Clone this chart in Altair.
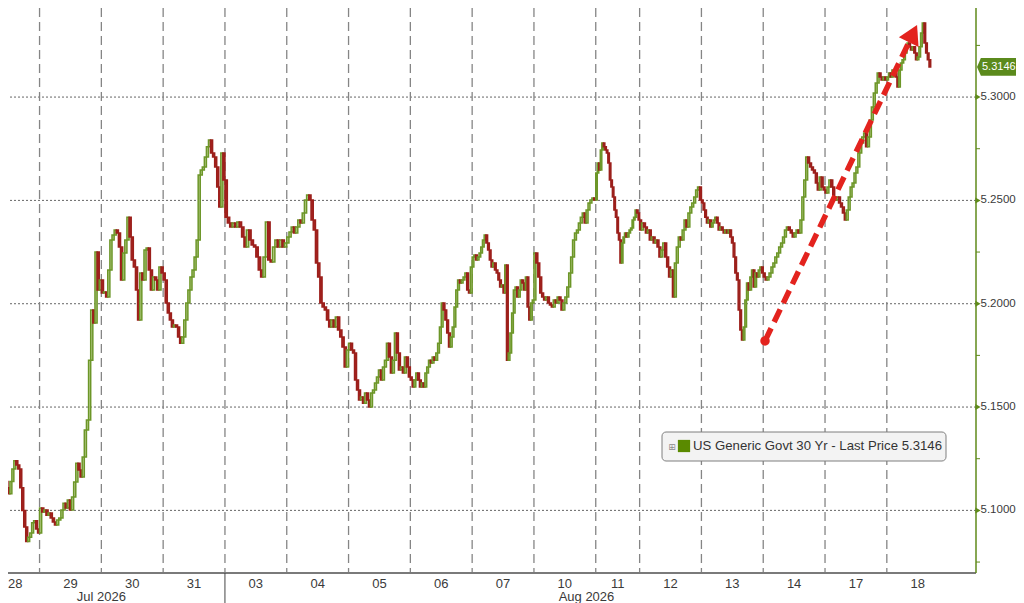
import pandas as pd
import numpy as np
import altair as alt

FONT = "Liberation Sans, Arial, sans-serif"
OLIVE = '#5f8a1a'

# trading sessions (x in trading-day units; day 28 is cut at the left edge, 18 still open)
day_labels = ['28', '29', '30', '31', '03', '04', '05', '06', '07', '10', '11', '12', '13', '14', '17', '18']
day_starts = [0.36, 1, 2, 3, 4, 5, 6, 7, 8, 9, 10, 10.71, 11.71, 12.71, 13.71, 14.71]
day_ends = [1, 2, 3, 4, 5, 6, 7, 8, 9, 10, 10.71, 11.71, 12.71, 13.71, 14.71, 15.42]
label_pos = [0.5, 1.5, 2.5, 3.5, 4.5, 5.5, 6.5, 7.5, 8.5, 9.5, 10.355, 11.21, 12.21, 13.21, 14.21, 15.21]
day_bounds = [1, 2, 3, 4, 5, 6, 7, 8, 9, 10, 10.71, 11.71, 12.71, 13.71, 14.71]
month_labels = ['Jul 2026', 'Aug 2026']
month_pos = [2.0, 9.85]
month_break = [4.0]

# intraday closes per session
c28 = [5.111, 5.110, 5.114, 5.111, 5.108, 5.114, 5.120, 5.124, 5.122, 5.120, 5.111, 5.100, 5.092, 5.085,
       5.087, 5.089, 5.094, 5.095, 5.091, 5.089]
c29 = [5.1011, 5.0992, 5.1002, 5.0977, 5.0987, 5.0963, 5.0944, 5.0929, 5.0953, 5.0963, 5.1002, 5.1035,
       5.1011, 5.1050, 5.1002, 5.1065, 5.1137, 5.1228, 5.1195, 5.1161, 5.1258, 5.1389, 5.1437, 5.1727,
       5.1970, 5.1907, 5.2250, 5.2066, 5.2115]
c30 = [5.2052, 5.2057, 5.2033, 5.2163, 5.2308, 5.2333, 5.2357, 5.2342, 5.2275, 5.2115, 5.2245, 5.2308,
       5.2419, 5.2323, 5.2212, 5.2178, 5.2066, 5.1921, 5.2149, 5.2115, 5.2260, 5.2270, 5.2163, 5.2066,
       5.2129, 5.2115, 5.2066, 5.2178, 5.2149]
c31 = [5.2115, 5.2003, 5.1955, 5.1921, 5.1887, 5.1897, 5.1887, 5.1839, 5.1809, 5.1839, 5.1921, 5.2003,
       5.2066, 5.2129, 5.2163, 5.2226, 5.2308, 5.2623, 5.2647, 5.2662, 5.2710, 5.2759, 5.2792, 5.2729,
       5.2710, 5.2662, 5.2565, 5.2468, 5.2729, 5.2599]
c03 = [5.2419, 5.2391, 5.2371, 5.2391, 5.2371, 5.2395, 5.2371, 5.2323, 5.2275, 5.2357, 5.2308, 5.2284,
       5.2275, 5.2226, 5.2163, 5.2129, 5.2226, 5.2395, 5.2212, 5.2202, 5.2275, 5.2308, 5.2275, 5.2308,
       5.2275, 5.2294]
c04 = [5.2323, 5.2347, 5.2371, 5.2342, 5.2371, 5.2405, 5.2391, 5.2439, 5.2502, 5.2526, 5.2502, 5.2405,
       5.2357, 5.2197, 5.2129, 5.2003, 5.1984, 5.1970, 5.1921, 5.1887, 5.1921, 5.1887, 5.1936, 5.1873,
       5.1839, 5.1790, 5.1694, 5.1776]
c05 = [5.1809, 5.1776, 5.1761, 5.1631, 5.1582, 5.1534, 5.1549, 5.1519, 5.1568, 5.1534, 5.1500, 5.1568,
       5.1582, 5.1616, 5.1645, 5.1679, 5.1631, 5.1694, 5.1727, 5.1809, 5.1742, 5.1665, 5.1727, 5.1858,
       5.1761, 5.1679, 5.1694, 5.1665, 5.1742, 5.1694, 5.1645]
c06 = [5.1631, 5.1597, 5.1631, 5.1665, 5.1631, 5.1597, 5.1616, 5.1597, 5.1665, 5.1694, 5.1727, 5.1713,
       5.1742, 5.1727, 5.1761, 5.1809, 5.1887, 5.2003, 5.1970, 5.1921, 5.1858, 5.1790, 5.1839, 5.1887,
       5.1984, 5.2066, 5.2115, 5.2100, 5.2115, 5.2129, 5.2149, 5.2066, 5.2052, 5.2178]
c07 = [5.2226, 5.2236, 5.2212, 5.2226, 5.2245, 5.2275, 5.2308, 5.2333, 5.2294, 5.2260, 5.2212, 5.2178,
       5.2197, 5.2163, 5.2149, 5.2115, 5.2081, 5.2091, 5.2052, 5.2187, 5.1727, 5.1761, 5.1858, 5.1955,
       5.2066, 5.2081, 5.2033, 5.2066, 5.2115, 5.2100, 5.2066, 5.2129, 5.1984, 5.1921, 5.2003, 5.2018]
c10 = [5.2245, 5.2197, 5.2129, 5.2052, 5.2033, 5.2018, 5.2033, 5.2003, 5.1994, 5.1984, 5.2018, 5.2003,
       5.2033, 5.2018, 5.1970, 5.2003, 5.2033, 5.2081, 5.2149, 5.2226, 5.2308, 5.2342, 5.2357, 5.2391,
       5.2419, 5.2439, 5.2391, 5.2453, 5.2487, 5.2502, 5.2512, 5.2502]
c11 = [5.2633, 5.2681, 5.2647, 5.2744, 5.2778, 5.2759, 5.2744, 5.2729, 5.2681, 5.2599, 5.2565, 5.2517,
       5.2453, 5.2419, 5.2342, 5.2308, 5.2197, 5.2294, 5.2323, 5.2342, 5.2323, 5.2342, 5.2357, 5.2366,
       5.2405, 5.2419, 5.2453, 5.2439, 5.2405]
c12 = [5.2357, 5.2391, 5.2371, 5.2342, 5.2357, 5.2308, 5.2323, 5.2294, 5.2308, 5.2275, 5.2226, 5.2260,
       5.2294, 5.2226, 5.2178, 5.2129, 5.2163, 5.2033, 5.2197, 5.2275, 5.2323, 5.2308, 5.2357, 5.2405,
       5.2371, 5.2439, 5.2468, 5.2487, 5.2517, 5.2550, 5.2565, 5.2502]
c13 = [5.2487, 5.2453, 5.2419, 5.2391, 5.2405, 5.2371, 5.2391, 5.2405, 5.2419, 5.2391, 5.2357, 5.2371,
       5.2357, 5.2342, 5.2357, 5.2342, 5.2357, 5.2323, 5.2294, 5.2226, 5.2149, 5.2115, 5.1970, 5.1873,
       5.1824, 5.1887, 5.2018, 5.2100, 5.2066, 5.2129, 5.2163, 5.2081, 5.2149, 5.2129, 5.2163, 5.2178,
       5.2149]
c14 = [5.2129, 5.2115, 5.2129, 5.2149, 5.2178, 5.2197, 5.2226, 5.2245, 5.2275, 5.2294, 5.2323, 5.2357,
       5.2371, 5.2357, 5.2342, 5.2323, 5.2342, 5.2357, 5.2342, 5.2405, 5.2517, 5.2599, 5.2710, 5.2681,
       5.2662, 5.2647, 5.2633, 5.2584, 5.2550, 5.2613, 5.2565, 5.2550]
c17 = [5.2536, 5.2565, 5.2599, 5.2565, 5.2517, 5.2502, 5.2517, 5.2487, 5.2468, 5.2439, 5.2405, 5.2453,
       5.2517, 5.2565, 5.2584, 5.2633, 5.2662, 5.2729, 5.2778, 5.2807, 5.2826, 5.2759, 5.2807, 5.2889,
       5.2952, 5.3020, 5.3068, 5.3117, 5.3097, 5.3083, 5.3097, 5.3083]
c18 = [5.3097, 5.3117, 5.3097, 5.3131, 5.3117, 5.3097, 5.3049, 5.3131, 5.3165, 5.3180, 5.3213, 5.3243,
       5.3262, 5.3243, 5.3228, 5.3243, 5.3213, 5.3180, 5.3194, 5.3243, 5.3310, 5.3359, 5.3262, 5.3213,
       5.3180, 5.3146]
closes = [c28, c29, c30, c31, c03, c04, c05, c06, c07, c10, c11, c12, c13, c14, c17, c18]

grid_y = [5.10, 5.15, 5.20, 5.25, 5.30]
minor_y = [5.075, 5.125, 5.175, 5.225, 5.275, 5.325]
last_price = 5.3146
legend_text = 'US Generic Govt 30 Yr - Last Price 5.3146'

# red dashed trend arrow: start dot, line end, arrow head
arrow_x = [12.739, 15.085]
arrow_y = [5.1820, 5.3276]
head_x = [15.132]
head_y = [5.3307]

# build candles: open = previous close
rows = []
prev = c28[0]
for lab, s, e, cl in zip(day_labels, day_starts, day_ends, closes):
    step = (e - s) / len(cl)
    for i, c in enumerate(cl):
        mid = s + (i + 0.5) * step
        rows.append({'day': lab, 'x': mid - 0.5 * step, 'x2': mid + 0.5 * step,
                     'open': prev, 'close': c, 'up': c >= prev})
        prev = c
candles_df = pd.DataFrame(rows)

W, H = 968, 565
xscale = alt.Scale(domain=[0.4894, 16.153], nice=False, zero=False)
yscale = alt.Scale(domain=[5.0697, 5.3431], nice=False, zero=False)
one = pd.DataFrame({'a': [0]})

hgrid = alt.Chart(pd.DataFrame({'y': grid_y})).mark_rule(
    color='#666666', strokeDash=[2, 2], strokeWidth=1
).encode(y=alt.Y('y:Q', scale=yscale, axis=None))

vgrid = alt.Chart(pd.DataFrame({'x': day_bounds})).mark_rule(
    color='#858585', strokeDash=[9, 5], strokeWidth=1.3
).encode(x=alt.X('x:Q', scale=xscale, axis=None))

# legend box (covers the grid lines)
leg_box = alt.Chart(one).mark_rect(
    fill='#f3f3f3', stroke='#7f7f7f', strokeWidth=1, cornerRadius=4
).encode(x=alt.value(654), x2=alt.value(938), y=alt.value(424), y2=alt.value(453))
leg_icon = alt.Chart(one).mark_text(text='⊞', fontSize=9, color='#8a8a8a', font='DejaVu Sans').encode(
    x=alt.value(664), y=alt.value(439))
leg_swatch = alt.Chart(one).mark_square(size=150, color='#5a8a00', opacity=1).encode(
    x=alt.value(676), y=alt.value(438))
leg_label = alt.Chart(one).mark_text(
    text=legend_text, font=FONT, fontSize=13.2, color='#333', align='left', baseline='middle'
).encode(x=alt.value(685), y=alt.value(438))

candles = alt.Chart(candles_df).mark_rect(strokeWidth=1.5, clip=True).encode(
    x=alt.X('x:Q', scale=xscale, axis=None),
    x2='x2:Q',
    y=alt.Y('open:Q', scale=yscale, axis=None),
    y2='close:Q',
    fill=alt.condition('datum.up', alt.value('#bfd293'), alt.value('#a8231f')),
    stroke=alt.condition('datum.up', alt.value('#6c9628'), alt.value('#9b1f1b')),
)

# bottom axis line and month separator
x_domain = alt.Chart(one).mark_rule(color='#7a7a7a', strokeWidth=2).encode(
    x=alt.value(0), x2=alt.value(W), y=alt.value(H))
sep = alt.Chart(pd.DataFrame({'x': month_break})).mark_rule(color='#444', strokeWidth=1).encode(
    x=alt.X('x:Q', scale=xscale, axis=None), y=alt.value(H), y2=alt.value(H + 30))

day_df = pd.DataFrame({'x': label_pos, 'label': day_labels})
day_text = alt.Chart(day_df.iloc[1:]).mark_text(
    font=FONT, fontSize=13, color='#3a3a3a', baseline='middle'
).encode(x=alt.X('x:Q', scale=xscale, axis=None), y=alt.value(H + 11), text='label:N')
# first session label sits against the left edge
first_text = alt.Chart(day_df.iloc[:1]).mark_text(
    font=FONT, fontSize=13, color='#3a3a3a', baseline='middle', align='left'
).encode(x=alt.value(0), y=alt.value(H + 11), text='label:N')

month_text = alt.Chart(pd.DataFrame({'x': month_pos, 'label': month_labels})).mark_text(
    font=FONT, fontSize=13, color='#3a3a3a', baseline='middle'
).encode(x=alt.X('x:Q', scale=xscale, axis=None), y=alt.value(H + 24), text='label:N')

# right-hand price axis
y_domain = alt.Chart(one).mark_rule(color=OLIVE, strokeWidth=1.5).encode(
    x=alt.value(W), y=alt.value(0), y2=alt.value(H))
minor_ticks = alt.Chart(pd.DataFrame({'y': minor_y})).mark_rule(color=OLIVE, strokeWidth=1).encode(
    x=alt.value(W), x2=alt.value(W + 4), y=alt.Y('y:Q', scale=yscale, axis=None))
major_df = pd.DataFrame({'y': grid_y, 'label': ['%.4f' % v for v in grid_y]})
axis_marks = alt.Chart(major_df).mark_point(
    shape='triangle-right', filled=True, size=36, color=OLIVE, opacity=1
).encode(x=alt.value(W + 2), y=alt.Y('y:Q', scale=yscale, axis=None))
axis_labels = alt.Chart(major_df).mark_text(
    font=FONT, fontSize=11.5, color='#3a3a3a', align='left', baseline='middle'
).encode(x=alt.value(W + 4.5), y=alt.Y('y:Q', scale=yscale, axis=None), text='label:N')

# last price tag
tag_df = pd.DataFrame({'y': [last_price], 'label': ['%.4f' % last_price]})
tag = alt.Chart(tag_df).mark_point(
    shape='M-1,0L-0.8,-0.46L1,-0.46L1,0.46L-0.8,0.46Z', filled=True, size=1521,
    color='#5b8a1c', opacity=1, strokeWidth=0
).encode(x=alt.value(W + 20.5), y=alt.Y('y:Q', scale=yscale, axis=None))
tag_text = alt.Chart(tag_df).mark_text(
    font=FONT, fontSize=11, color='white', baseline='middle', align='left'
).encode(x=alt.value(W + 6), y=alt.Y('y:Q', scale=yscale, axis=None), text='label:N')

# trend arrow
arrow_df = pd.DataFrame({'x': arrow_x, 'y': arrow_y})
arrow_line = alt.Chart(arrow_df).mark_line(
    color='#e3231e', strokeWidth=5.5, strokeDash=[14, 7], strokeCap='butt'
).encode(x=alt.X('x:Q', scale=xscale, axis=None), y=alt.Y('y:Q', scale=yscale, axis=None))
arrow_dot = alt.Chart(arrow_df.iloc[:1]).mark_circle(size=90, color='#e3231e', opacity=1).encode(
    x=alt.X('x:Q', scale=xscale, axis=None), y=alt.Y('y:Q', scale=yscale, axis=None))
arrow_head = alt.Chart(pd.DataFrame({'x': head_x, 'y': head_y})).mark_point(
    shape='triangle-up', filled=True, size=480, angle=26, color='#e3231e', opacity=1
).encode(x=alt.X('x:Q', scale=xscale, axis=None), y=alt.Y('y:Q', scale=yscale, axis=None))

chart = alt.layer(
    hgrid, vgrid, leg_box, candles, x_domain, sep, day_text, first_text, month_text,
    y_domain, minor_ticks, axis_marks, axis_labels,
    leg_icon, leg_swatch, leg_label, arrow_line, arrow_dot, arrow_head, tag, tag_text
).properties(
    width=W, height=H, autosize='none',
    padding={'left': 0, 'top': 0, 'right': 40, 'bottom': 30},
    background='white'
).configure_view(strokeWidth=0)

chart.save("out.html", embed_options={"renderer": "svg", "actions": False})
